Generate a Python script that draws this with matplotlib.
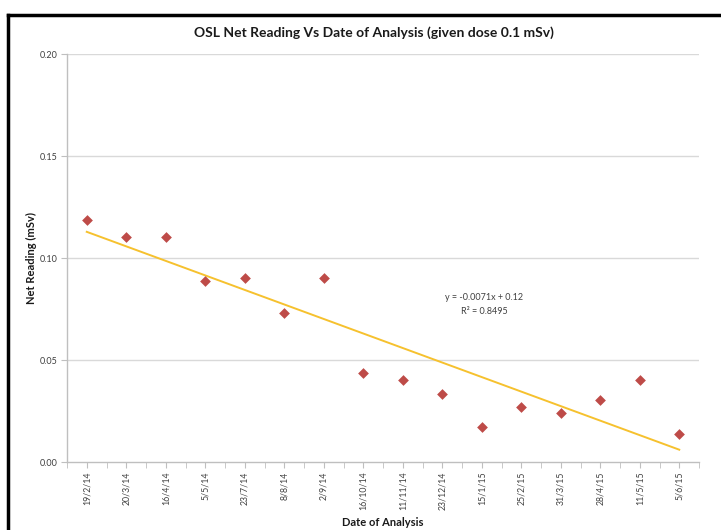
import numpy as np
import matplotlib
matplotlib.use("Agg")
import matplotlib.pyplot as plt
from matplotlib.lines import Line2D

dates = ["19/2/14", "20/3/14", "16/4/14", "5/5/14", "23/7/14", "8/8/14", "2/9/14",
         "16/10/14", "11/11/14", "23/12/14", "15/1/15", "25/2/15", "31/3/15",
         "28/4/15", "11/5/15", "5/6/15"]
net_reading = [0.1186, 0.1103, 0.1103, 0.0887, 0.0902, 0.0730, 0.0902,
               0.0436, 0.0402, 0.0333, 0.0172, 0.0270, 0.0240, 0.0304,
               0.0402, 0.0137]
y_ticks = [0.00, 0.05, 0.10, 0.15, 0.20]

W, H = 721, 530
fig = plt.figure(figsize=(W / 100, H / 100), dpi=100)
plt.rcParams['font.family'] = ['Lato', 'DejaVu Sans']

ax = fig.add_axes([67 / W, 1 - 462 / H, 632 / W, 408 / H])
x = np.arange(1, len(dates) + 1)

for v in y_ticks[1:]:
    ax.axhline(v, color='#d9d9d9', lw=1.0, zorder=0)

ax.scatter(x, net_reading, marker='D', s=30, color='#BE4B48', zorder=3, linewidths=0)

coef = np.polyfit(x, net_reading, 1)
xt = np.array([x[0], x[-1]])
ax.plot(xt, np.polyval(coef, xt), color='#F6C12E', lw=1.4, zorder=2)

ax.set_xlim(0.5, len(dates) + 0.5)
ax.set_ylim(0, 0.2)
ax.set_yticks(y_ticks)
ax.set_yticklabels([f"{v:.2f}" for v in y_ticks], fontsize=6.5, color='#404040')
ax.set_xticks(x)
ax.set_xticklabels(dates, rotation=90, fontsize=6.3, color='#404040')
ax.set_xticks(np.arange(0.5, len(dates) + 1, 1.0), minor=True)
ax.tick_params(axis='x', which='both', length=4, color='#bfbfbf', pad=3)
ax.tick_params(axis='y', length=4, color='#bfbfbf', pad=3)

for s in ['top', 'right']:
    ax.spines[s].set_visible(False)
for s in ['left', 'bottom']:
    ax.spines[s].set_color('#bfbfbf')
    ax.spines[s].set_linewidth(1.0)

fig.text(484 / W, 1 - 298 / H, 'y = -0.0071x + 0.12', fontsize=6.5, color='#404040',
         ha='center', va='center')
fig.text(484 / W, 1 - 311 / H, 'R² = 0.8495', fontsize=6.5, color='#404040',
         ha='center', va='center')

fig.text(374 / W, 1 - 33 / H, 'OSL Net Reading Vs Date of Analysis (given dose 0.1 mSv)',
         fontsize=10, fontweight='bold', ha='center', va='center', color='#1a1a1a')
fig.text(31 / W, 1 - 258 / H, 'Net Reading (mSv)', fontsize=8, fontweight='bold',
         rotation=90, ha='center', va='center', color='#1a1a1a')
fig.text(383 / W, 1 - 523 / H, 'Date of Analysis', fontsize=8, fontweight='bold',
         ha='center', va='center', color='#1a1a1a')

fig.add_artist(Line2D([8 / W, 8 / W], [0, 1 - 15 / H], transform=fig.transFigure,
                      color='black', lw=2.5))
fig.add_artist(Line2D([8 / W, 1], [1 - 15 / H, 1 - 15 / H], transform=fig.transFigure,
                      color='black', lw=2.5))

fig.savefig('out.png', dpi=100)
